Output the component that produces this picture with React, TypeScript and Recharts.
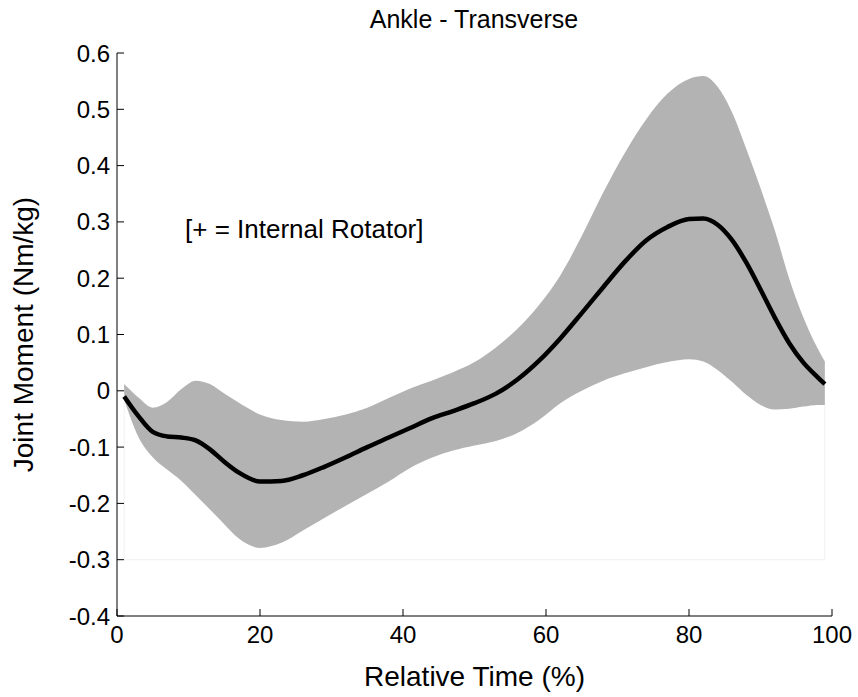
import { ComposedChart, Area, Line, XAxis, YAxis, ReferenceLine } from "recharts";

const FONT = "'Liberation Sans', Arial, sans-serif";

// relative time (%) where the curves were read
const TIME = [1, 3, 5, 7, 9, 11, 13, 15, 17, 20, 23, 26, 29, 32, 35, 38, 41, 44, 47, 50, 53, 56, 59, 62, 65, 68, 71, 74, 77, 80, 82, 84, 86, 88, 90, 92, 94, 96, 98, 99];

const MEAN = [-0.01, -0.045, -0.073, -0.081, -0.083, -0.088, -0.104, -0.126, -0.145, -0.161, -0.16, -0.15, -0.135, -0.118, -0.1, -0.083, -0.066, -0.049, -0.036, -0.022, -0.005, 0.02, 0.053, 0.093, 0.138, 0.184, 0.229, 0.267, 0.291, 0.305, 0.306, 0.295, 0.268, 0.228, 0.18, 0.13, 0.085, 0.05, 0.024, 0.012];

const UPPER = [0.012, -0.012, -0.03, -0.02, 0.003, 0.018, 0.012, -0.005, -0.021, -0.042, -0.052, -0.055, -0.05, -0.042, -0.03, -0.013, 0.004, 0.018, 0.033, 0.051, 0.077, 0.11, 0.152, 0.205, 0.275, 0.352, 0.422, 0.482, 0.528, 0.554, 0.559, 0.54, 0.495, 0.43, 0.36, 0.285, 0.2, 0.13, 0.075, 0.052];

const LOWER = [-0.016, -0.082, -0.118, -0.14, -0.16, -0.185, -0.211, -0.237, -0.262, -0.279, -0.27, -0.248, -0.226, -0.204, -0.183, -0.161, -0.137, -0.119, -0.106, -0.097, -0.089, -0.075, -0.052, -0.022, 0.0, 0.018, 0.031, 0.042, 0.051, 0.056, 0.052, 0.037, 0.016, -0.007, -0.025, -0.033, -0.032, -0.028, -0.025, -0.025];

const X_TICKS = [0, 20, 40, 60, 80, 100];
const Y_TICKS = [-0.4, -0.3, -0.2, -0.1, 0, 0.1, 0.2, 0.3, 0.4, 0.5, 0.6];

const data = TIME.map((t, i) => ({ t, mean: MEAN[i], band: [LOWER[i], UPPER[i]] }));

const tickStyle = { fontSize: 24, fill: "#000", fontFamily: FONT };

export default function App() {
  const last = TIME.length - 1;
  return (
    <div style={{ position: "absolute", left: 0, top: 0, width: 858, height: 697, background: "#fff" }}>
      <ComposedChart width={858} height={697} data={data} margin={{ top: 53, right: 26, bottom: 11, left: 0 }}>
        <XAxis
          dataKey="t"
          type="number"
          domain={[0, 100]}
          ticks={X_TICKS}
          tick={tickStyle}
          tickSize={-7}
          tickMargin={17}
          height={70}
          stroke="#000"
          label={{ value: "Relative Time (%)", position: "insideBottom", offset: 0, fontSize: 28, fill: "#000", fontFamily: FONT }}
        />
        <YAxis
          type="number"
          domain={[-0.4, 0.6]}
          ticks={Y_TICKS}
          tick={tickStyle}
          tickSize={-7}
          tickMargin={14}
          width={117}
          stroke="#000"
          tickFormatter={(v: number) => (Math.abs(v) < 1e-9 ? "0" : v.toFixed(1))}
          label={{ value: "Joint Moment (Nm/kg)", angle: -90, position: "insideLeft", offset: 23, fontSize: 28, fill: "#000", fontFamily: FONT, style: { textAnchor: "middle" } }}
        />
        <ReferenceLine segment={[{ x: TIME[0], y: -0.3 }, { x: TIME[last], y: -0.3 }]} stroke="#f0f0f0" />
        <ReferenceLine segment={[{ x: TIME[0], y: -0.3 }, { x: TIME[0], y: LOWER[0] }]} stroke="#f0f0f0" />
        <ReferenceLine segment={[{ x: TIME[last], y: -0.3 }, { x: TIME[last], y: LOWER[last] }]} stroke="#f0f0f0" />
        <Area
          type="monotone"
          dataKey="band"
          stroke="none"
          fill="#b3b3b3"
          fillOpacity={1}
          isAnimationActive={false}
        />
        <Line
          type="monotone"
          dataKey="mean"
          stroke="#000"
          strokeWidth={4.5}
          dot={false}
          isAnimationActive={false}
        />
      </ComposedChart>
      <svg width={858} height={697} style={{ position: "absolute", left: 0, top: 0, pointerEvents: "none" }}>
        <text x={474} y={28} textAnchor="middle" fontSize={25} fontFamily={FONT} fill="#000">
          Ankle - Transverse
        </text>
        <text x={185} y={238} fontSize={26} fontFamily={FONT} fill="#000">
          [+ = Internal Rotator]
        </text>
      </svg>
    </div>
  );
}
